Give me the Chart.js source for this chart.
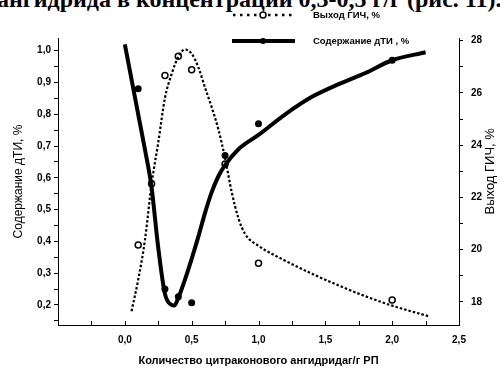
<!DOCTYPE html>
<html>
<head>
<meta charset="utf-8">
<title>Выход ГИЧ и содержание дТИ</title>
<script src="https://cdn.jsdelivr.net/npm/chart.js@4.4.0/dist/chart.umd.min.js"></script>
<style>
body { margin: 0; background: #fff; }
#wrap { position: relative; width: 500px; height: 372px; overflow: hidden; }
#caption { position: absolute; left: -3px; top: -14px; font: bold 24px "Liberation Serif"; white-space: nowrap; color: #000; }
#chart { position: absolute; left: 0; top: 0; }
</style>
</head>
<body>
<div id="wrap">
	<div id="caption">ангидрида в концентрации 0,3-0,5 г/г (рис. 11).</div>
	<canvas id="chart" width="500" height="372"></canvas>
</div>
<script>
// measured points: amount of citraconic anhydride, g per g
var amount = [0.1, 0.2, 0.3, 0.4, 0.5, 0.75, 1.0, 2.0];
var yieldGich = [20.18, 22.52, 26.67, 27.40, 26.89, 23.28, 19.48, 18.08];

var dtiAmount = [0.1, 0.3, 0.4, 0.5, 0.75, 1.0, 2.0];
var dtiContent = [0.88, 0.25, 0.226, 0.207, 0.67, 0.77, 0.97];

// fitted curves
var yieldFitX = [0.05, 0.10, 0.15, 0.20, 0.25, 0.30, 0.35, 0.40, 0.45, 0.50, 0.55, 0.60, 0.65, 0.70, 0.75, 0.80, 0.85, 0.90, 1.00, 1.20, 1.40, 1.60, 1.80, 2.00, 2.27];
var yieldFitY = [17.65, 18.85, 20.35, 22.5, 24.1, 25.8, 26.72, 27.38, 27.66, 27.5, 26.98, 26.2, 25.45, 24.6, 23.5, 22.2, 21.2, 20.6, 20.15, 19.58, 19.08, 18.63, 18.22, 17.86, 17.46];

var dtiFitX = [0.0, 0.05, 0.10, 0.15, 0.20, 0.25, 0.30, 0.35, 0.37, 0.40, 0.45, 0.50, 0.55, 0.60, 0.65, 0.70, 0.75, 0.85, 1.00, 1.20, 1.40, 1.60, 1.80, 2.00, 2.25];
var dtiFitY = [1.02, 0.91, 0.80, 0.69, 0.57, 0.38, 0.235, 0.20, 0.198, 0.222, 0.28, 0.345, 0.415, 0.49, 0.555, 0.605, 0.64, 0.69, 0.735, 0.80, 0.855, 0.895, 0.93, 0.97, 0.995];

var legendLabels = ['Выход ГИЧ, %', 'Содержание дТИ , %'];

function pairs(xs, ys) {
	return xs.map(function (x, i) {
		return { x: x, y: ys[i] };
	});
}

function comma(v) {
	return v.toFixed(1).replace('.', ',');
}

var tickFont = { family: 'Liberation Sans', size: 10, weight: 'bold' };
var yieldDash = [2.5, 2];

// inward ticks on the bottom axis, right axis title and the legend box
var extras = {
	id: 'extras',
	afterDraw: function (chart) {
		var ctx = chart.ctx;
		var xs = chart.scales.x;
		var y2 = chart.scales.y2;
		ctx.save();
		ctx.strokeStyle = '#000';
		ctx.fillStyle = '#000';
		ctx.lineWidth = 1;
		xs.ticks.forEach(function (t, i) {
			var px = Math.round(xs.getPixelForTick(i)) + 0.5;
			ctx.beginPath();
			ctx.moveTo(px, xs.top);
			ctx.lineTo(px, xs.top - 4);
			ctx.stroke();
		});

		// right title reads bottom to top
		ctx.save();
		ctx.translate(490, y2.getPixelForValue(23));
		ctx.rotate(-Math.PI / 2);
		ctx.font = '13px "Liberation Sans"';
		ctx.textAlign = 'center';
		ctx.textBaseline = 'middle';
		ctx.fillText('Выход ГИЧ, %', 0, 0);
		ctx.restore();

		ctx.font = 'bold 9.5px "Liberation Sans"';
		ctx.textBaseline = 'middle';

		// dotted sample with open circle
		ctx.lineWidth = 2.5;
		ctx.setLineDash([2.5, 4.5]);
		ctx.beginPath();
		ctx.moveTo(233, 15);
		ctx.lineTo(296, 15);
		ctx.stroke();
		ctx.setLineDash([]);
		ctx.lineWidth = 1.5;
		ctx.beginPath();
		ctx.arc(263, 15, 3, 0, Math.PI * 2);
		ctx.fillStyle = '#fff';
		ctx.fill();
		ctx.stroke();
		ctx.fillStyle = '#000';
		ctx.fillText(legendLabels[0], 313, 15);

		// solid sample with filled dot
		ctx.lineWidth = 4;
		ctx.beginPath();
		ctx.moveTo(232, 41);
		ctx.lineTo(295, 41);
		ctx.stroke();
		ctx.beginPath();
		ctx.arc(263, 41, 3, 0, Math.PI * 2);
		ctx.fill();
		ctx.fillText(legendLabels[1], 313, 41);
		ctx.restore();
	}
};

var config = {
	type: 'scatter',
	data: {
		datasets: [{
			label: legendLabels[0],
			data: pairs(yieldFitX, yieldFitY),
			yAxisID: 'y2',
			showLine: true,
			borderColor: '#000',
			borderWidth: 2.2,
			borderDash: yieldDash,
			pointRadius: 0,
			cubicInterpolationMode: 'monotone'
		}, {
			label: legendLabels[1],
			data: pairs(dtiFitX, dtiFitY),
			yAxisID: 'y',
			showLine: true,
			borderColor: '#000',
			borderWidth: 4,
			pointRadius: 0,
			cubicInterpolationMode: 'monotone'
		}, {
			data: pairs(amount, yieldGich),
			yAxisID: 'y2',
			pointRadius: 3,
			borderWidth: 1.5,
			borderColor: '#000',
			backgroundColor: '#fff'
		}, {
			data: pairs(dtiAmount, dtiContent),
			yAxisID: 'y',
			pointRadius: 3.5,
			borderWidth: 0,
			backgroundColor: '#000'
		}]
	},
	options: {
		responsive: false,
		animation: false,
		layout: { padding: { top: 38 } },
		plugins: {
			legend: { display: false },
			tooltip: { enabled: false }
		},
		scales: {
			x: {
				type: 'linear',
				min: -0.5,
				max: 2.5,
				afterFit: function (scale) { scale.height = 47; },
				border: { display: true, color: '#000', width: 1 },
				grid: { drawOnChartArea: false, drawTicks: false },
				ticks: {
					stepSize: 0.25,
					includeBounds: false,
					padding: 9,
					color: '#000',
					font: tickFont,
					maxRotation: 0,
					autoSkip: false,
					callback: function (v) {
						var k = Math.round(v * 100);
						if (k < 0 || k % 50 !== 0) return '';
						return comma(v);
					}
				},
				title: {
					display: true,
					text: 'Количество цитраконового ангидридаг/г РП',
					color: '#000',
					font: { family: 'Liberation Sans', size: 11, weight: 'bold' },
					padding: { top: 0, bottom: 4 }
				}
			},
			y: {
				position: 'left',
				min: 0.137,
				max: 1.04,
				afterFit: function (scale) { scale.width = 58; },
				border: { display: true, color: '#000', width: 1 },
				grid: { drawOnChartArea: false, drawTicks: true, tickLength: 4, color: '#000' },
				ticks: {
					stepSize: 0.05,
					includeBounds: false,
					padding: 3,
					color: '#000',
					font: tickFont,
					autoSkip: false,
					callback: function (v) {
						var k = Math.round(v * 100);
						if (k % 10 !== 0) return '';
						return comma(v);
					}
				},
				title: {
					display: true,
					text: 'Содержание дТИ, %',
					color: '#000',
					font: { family: 'Liberation Sans', size: 12 },
					padding: { top: 11, bottom: 0 }
				}
			},
			y2: {
				position: 'right',
				min: 17.12,
				max: 28.1,
				afterFit: function (scale) { scale.width = 41; },
				border: { display: true, color: '#000', width: 1, dash: [1, 1.5] },
				grid: { drawOnChartArea: false, drawTicks: true, tickLength: 4, color: '#000' },
				ticks: {
					stepSize: 1,
					includeBounds: false,
					padding: 8,
					color: '#000',
					font: tickFont,
					autoSkip: false,
					callback: function (v) {
						return Math.round(v) % 2 === 0 ? String(Math.round(v)) : '';
					}
				}
			}
		}
	},
	plugins: [extras]
};

var ctx = document.getElementById('chart');
var chart = new Chart(ctx, config);
</script>
</body>
</html>
